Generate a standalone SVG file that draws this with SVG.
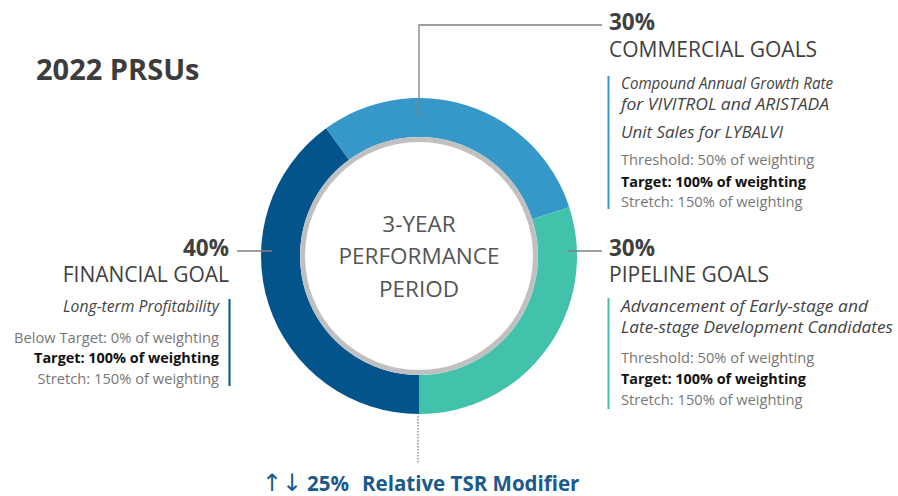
<svg xmlns="http://www.w3.org/2000/svg" width="898" height="496" viewBox="0 0 898 496">
<style>
text{font-family:"Open Sans","Liberation Sans",sans-serif;}
.pct{font-size:22.5px;font-weight:bold;fill:#404040;}
.hd{font-size:21px;fill:#404040;}
.it{font-size:16.5px;font-style:italic;fill:#444;}
.lv{font-size:14.7px;fill:#777;}
.tg{font-size:14.4px;font-weight:bold;fill:#111;}
.ctr{font-size:22.5px;fill:#555;text-anchor:middle;}
.conn{stroke:#808080;stroke-width:1.3;fill:none;}
.r{text-anchor:end;}
.tsr{font-weight:bold;fill:#1B5A8C;}
</style>
<rect width="898" height="496" fill="#fff"/>
<g id="title"><text x="36" y="80" style="font-size:29px;font-weight:bold;fill:#3c3c3c">2022 PRSUs</text></g>
<g id="donut">
<path d="M419 414 A158 158 0 0 1 326.13 128.18 L349.05 159.73 A119 119 0 0 0 419 375 Z" fill="#03548A"/>
<path d="M326.13 128.18 A158 158 0 0 1 569.27 207.18 L532.18 219.23 A119 119 0 0 0 349.05 159.73 Z" fill="#3698C8"/>
<path d="M569.27 207.18 A158 158 0 0 1 419 414 L419 375 A119 119 0 0 0 532.18 219.23 Z" fill="#42C2AB"/>
<circle cx="419" cy="256" r="116.5" fill="#fff" stroke="#C0C0C0" stroke-width="5"/>
</g>
<g id="center">
<text class="ctr" x="419" y="232">3-YEAR</text>
<text class="ctr" x="419" y="264">PERFORMANCE</text>
<text class="ctr" x="419" y="297">PERIOD</text>
</g>
<g id="connectors">
<polyline class="conn" points="419,117 419,25 602,25"/>
<line class="conn" x1="568" y1="251" x2="602" y2="251"/>
<line class="conn" x1="237" y1="251" x2="272" y2="251"/>
<line x1="418" y1="416" x2="418" y2="463" stroke="#808080" stroke-width="1.3" stroke-dasharray="1.5,1.5"/>
</g>
<g id="commercial">
<text class="pct" x="609" y="30">30%</text>
<text class="hd" x="609" y="57">COMMERCIAL GOALS</text>
<rect x="607.5" y="76" width="2" height="133" fill="#3698C8"/>
<text class="it" x="621" y="89" textLength="212" lengthAdjust="spacingAndGlyphs">Compound Annual Growth Rate</text>
<text class="it" x="621" y="110" textLength="208" lengthAdjust="spacingAndGlyphs">for VIVITROL and ARISTADA</text>
<text class="it" x="621" y="138" textLength="162" lengthAdjust="spacingAndGlyphs">Unit Sales for LYBALVI</text>
<text class="lv" x="621" y="165">Threshold: 50% of weighting</text>
<text class="tg" x="621" y="187">Target: 100% of weighting</text>
<text class="lv" x="621" y="207">Stretch: 150% of weighting</text>
</g>
<g id="pipeline">
<text class="pct" x="609" y="256">30%</text>
<text class="hd" x="609" y="282">PIPELINE GOALS</text>
<rect x="607.5" y="298" width="2" height="111" fill="#42C2AB"/>
<text class="it" x="621" y="312" textLength="247" lengthAdjust="spacingAndGlyphs">Advancement of Early-stage and</text>
<text class="it" x="621" y="333" textLength="272" lengthAdjust="spacingAndGlyphs">Late-stage Development Candidates</text>
<text class="lv" x="621" y="363">Threshold: 50% of weighting</text>
<text class="tg" x="621" y="384">Target: 100% of weighting</text>
<text class="lv" x="621" y="405">Stretch: 150% of weighting</text>
</g>
<g id="financial">
<text class="pct r" x="229" y="256">40%</text>
<text class="hd r" x="229" y="282">FINANCIAL GOAL</text>
<rect x="228.5" y="299" width="2" height="87" fill="#03548A"/>
<text class="it r" x="219" y="312" textLength="156" lengthAdjust="spacingAndGlyphs">Long-term Profitability</text>
<text class="lv r" x="219" y="343">Below Target: 0% of weighting</text>
<text class="tg r" x="219" y="363">Target: 100% of weighting</text>
<text class="lv r" x="219" y="384">Stretch: 150% of weighting</text>
</g>
<g id="tsr">
<text class="tsr" x="262" y="491" style="font-family:'DejaVu Sans',sans-serif;font-size:24px;font-weight:normal">↑↓</text>
<text class="tsr" x="307" y="491" style="font-size:20.5px">25%</text>
<text class="tsr" x="362" y="491" style="font-size:20.5px">Relative TSR Modifier</text>
</g>
</svg>
